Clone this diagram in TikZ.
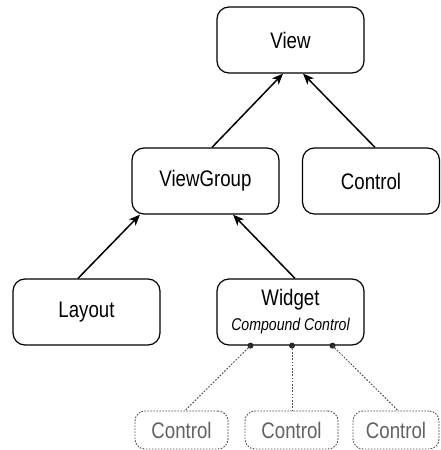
\documentclass[tikz,border=0pt]{standalone}
\usepackage{fontspec}
\setmainfont{Liberation Sans}[FakeStretch=0.83]
\usetikzlibrary{arrows.meta,calc}
\begin{document}
\begin{tikzpicture}[x=1pt,y=-1pt,
  box/.style={draw, line width=1.2pt, rounded corners=12pt, minimum width=147pt, minimum height=66pt, inner sep=0pt, font=\fontsize{22.5}{26}\selectfont},
  sbox/.style={draw=black!70, line width=0.9pt, dash pattern=on 1.6pt off 1.4pt, rounded corners=10pt, minimum width=93pt, minimum height=38pt, inner sep=0pt, text=black!62, font=\fontsize{22.5}{26}\selectfont},
  arr/.style={-{Stealth[length=11pt,width=9pt,inset=3pt]}, line width=1.5pt},
  dotl/.style={draw=black!70, line width=1pt, dash pattern=on 1.6pt off 1.6pt},
  dot/.style={circle, fill=black!85, inner sep=0pt, minimum size=6pt}]
\useasboundingbox (0,0) rectangle (441,450);
\node[box] (V) at (290.5,40) {View};
\node[box] (VG) at (205.5,181) {ViewGroup};
\node[box, minimum width=137pt] (C) at (371,181) {Control};
\node[box] (L) at (86.5,312) {Layout};
\node[box, align=center] (W) at (290.5,312) {Widget\\[-1pt]{\fontsize{17}{19}\selectfont\itshape Compound Control}};
\node[sbox] (C1) at (181.5,430) {Control};
\node[sbox] (C2) at (291.5,430) {Control};
\node[sbox, minimum width=86pt] (C3) at (396,430) {Control};
\draw[arr] ([xshift=6.5pt]VG.north) -- ([xshift=-7.5pt]V.south);
\draw[arr] ([xshift=4pt]C.north) -- ([xshift=12.5pt]V.south);
\draw[arr] ([xshift=-8.5pt]L.north) -- ([xshift=-65.5pt]VG.south);
\draw[arr] ([xshift=4.5pt]W.north) -- ([xshift=27.5pt]VG.south);
\node[dot] (d1) at ([xshift=-40pt]W.south) {};
\node[dot] (d2) at ([xshift=1.5pt]W.south) {};
\node[dot] (d3) at ([xshift=42pt]W.south) {};
\draw[dotl] (d1.center) -- ([xshift=3.5pt]C1.north);
\draw[dotl] (d2.center) -- ([xshift=0.5pt]C2.north);
\draw[dotl] (d3.center) -- ([xshift=2pt]C3.north);
\end{tikzpicture}
\end{document}
